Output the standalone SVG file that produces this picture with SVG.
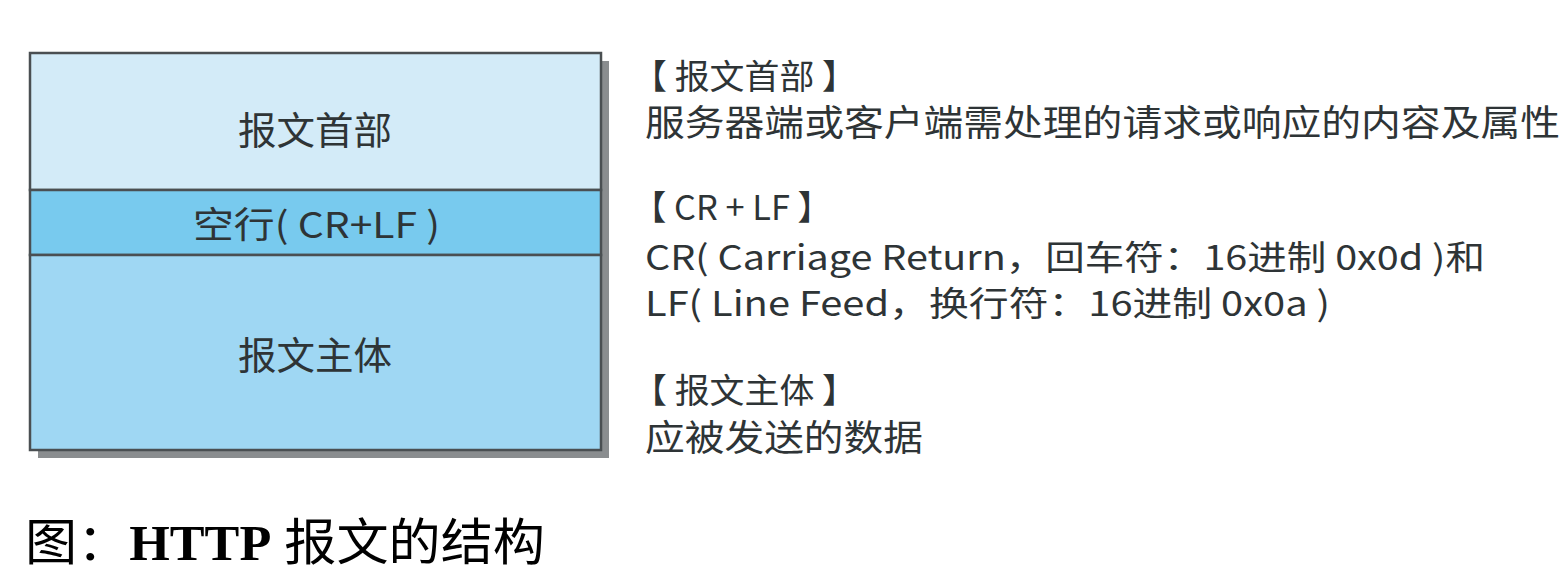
<svg xmlns="http://www.w3.org/2000/svg" width="1566" height="574" viewBox="0 0 1566 574">
<style>
.t{font-family:"Noto Sans CJK SC","Liberation Sans",sans-serif;fill:#2e3436;}
.box{stroke:#4a4f52;stroke-width:2.5;}
.cap{font-family:"Liberation Serif","Noto Sans CJK SC",serif;fill:#000;}
</style>
<rect width="1566" height="574" fill="#fff"/>
<g id="shadow"><rect x="38" y="61" width="571" height="397" fill="#8a8d8f"/></g>
<g id="header"><rect class="box" x="30" y="53" width="571" height="137" fill="#d3ebf8"/>
<text class="t" x="238" y="144" font-size="38" textLength="154" lengthAdjust="spacingAndGlyphs">报文首部</text></g>
<g id="blank"><rect class="box" x="30" y="190" width="571" height="65" fill="#78caee"/>
<text class="t" x="193" y="238" font-size="36" textLength="247" lengthAdjust="spacingAndGlyphs">空行( CR+LF )</text></g>
<g id="body"><rect class="box" x="30" y="255" width="571" height="195" fill="#9fd7f3"/>
<text class="t" x="238" y="369" font-size="38" textLength="154" lengthAdjust="spacingAndGlyphs">报文主体</text></g>
<g id="connectors"/>
<g id="desc-header">
<text class="t" x="632" y="89" font-size="34" textLength="225" lengthAdjust="spacingAndGlyphs">【 报文首部 】</text>
<text class="t" x="645" y="136" font-size="36" textLength="915" lengthAdjust="spacingAndGlyphs">服务器端或客户端需处理的请求或响应的内容及属性</text>
</g>
<g id="desc-crlf">
<text class="t" x="632" y="220" font-size="34" textLength="200" lengthAdjust="spacingAndGlyphs">【 CR + LF 】</text>
<text class="t" x="645" y="270" font-size="34" textLength="840" lengthAdjust="spacingAndGlyphs">CR( Carriage Return，回车符：16进制 0x0d )和</text>
<text class="t" x="645" y="316" font-size="34" textLength="685" lengthAdjust="spacingAndGlyphs">LF( Line Feed，换行符：16进制 0x0a )</text>
</g>
<g id="desc-body">
<text class="t" x="632" y="403" font-size="34" textLength="225" lengthAdjust="spacingAndGlyphs">【 报文主体 】</text>
<text class="t" x="645" y="451" font-size="36" textLength="278" lengthAdjust="spacingAndGlyphs">应被发送的数据</text>
</g>
<g id="caption">
<text class="cap" x="25" y="560" font-size="50" textLength="520" lengthAdjust="spacingAndGlyphs">图：<tspan font-weight="bold">HTTP</tspan> 报文的结构</text>
</g>
</svg>
